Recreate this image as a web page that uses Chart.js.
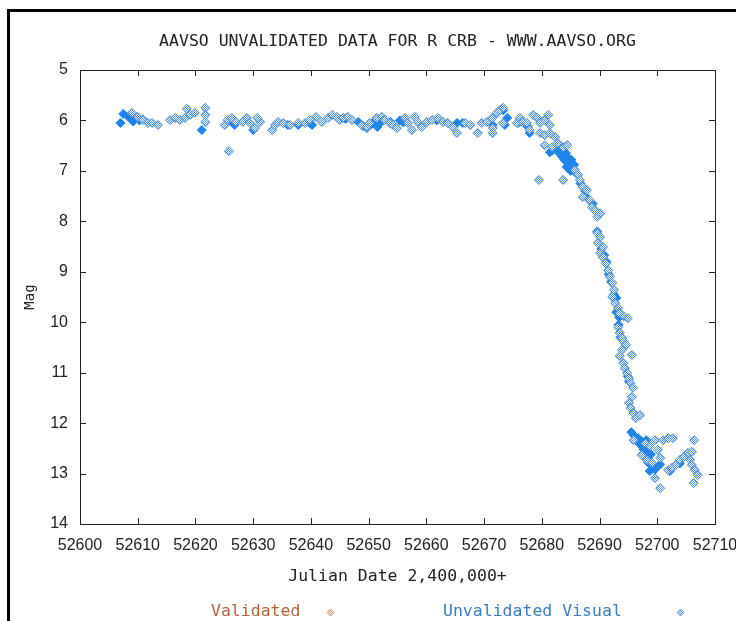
<!DOCTYPE html>
<html>
  <head>
    <script src="https://cdn.jsdelivr.net/npm/chart.js"></script>
    <style>
      body { margin: 0; background: #fff; }
      #lc { position: absolute; left: 0; top: 0; }
    </style>
  </head>

  <body>
    <canvas id="lc" width="736" height="621"></canvas>
  </body>

  <script>
    const chartTitle = "AAVSO UNVALIDATED DATA FOR R CRB - WWW.AAVSO.ORG";
    const xTitle = "Julian Date 2,400,000+";
    const yTitle = "Mag";
    const legendNames = ["Validated", "Unvalidated Visual"];

    // [julian date, magnitude] - hollow (dithered) visual estimates
    const visualObs = [
      [52609.0, 5.85], [52610.0, 5.93], [52610.9, 5.99], [52611.8, 6.05], [52612.5, 6.05],
      [52613.5, 6.09], [52615.6, 5.99], [52616.5, 5.95], [52617.3, 5.99], [52618.2, 5.95],
      [52619.1, 5.89], [52619.9, 5.85], [52618.5, 5.77], [52621.7, 5.75], [52621.7, 5.89],
      [52621.7, 6.03], [52625.1, 6.09], [52625.6, 5.99], [52626.3, 5.95], [52627.0, 6.03],
      [52625.8, 6.61], [52628.2, 6.03], [52628.9, 5.95], [52629.4, 6.05], [52630.3, 6.15],
      [52631.2, 6.03], [52630.7, 5.95], [52633.3, 6.19], [52633.8, 6.09], [52634.3, 6.03],
      [52635.2, 6.05], [52636.4, 6.09], [52637.8, 6.05], [52639.0, 6.05], [52639.8, 5.99],
      [52640.9, 5.93], [52641.9, 6.03], [52643.0, 5.95], [52643.7, 5.89], [52644.5, 5.93],
      [52645.0, 5.99], [52645.6, 5.95], [52646.4, 5.93], [52647.1, 5.99], [52648.8, 6.09],
      [52649.7, 6.13], [52650.2, 6.05], [52651.4, 5.95], [52652.3, 5.93], [52652.8, 5.99],
      [52653.7, 6.05], [52654.2, 6.09], [52654.9, 6.15], [52656.3, 5.95], [52656.8, 6.05],
      [52657.5, 6.19], [52658.0, 5.93], [52658.5, 6.03], [52659.2, 6.13], [52660.1, 6.03],
      [52661.0, 5.99], [52662.0, 5.95], [52662.9, 6.03], [52663.7, 6.05], [52664.6, 6.13],
      [52665.3, 6.25], [52666.7, 6.05], [52667.6, 6.09], [52668.9, 6.25], [52669.6, 6.05],
      [52670.5, 6.03], [52671.4, 5.95], [52672.2, 5.85], [52672.8, 5.79], [52673.3, 5.75],
      [52671.5, 6.15], [52671.5, 6.25], [52673.3, 6.05], [52675.7, 6.05], [52676.2, 5.95],
      [52676.7, 6.03], [52677.4, 6.05], [52677.9, 6.19], [52678.5, 5.89], [52679.2, 5.95],
      [52679.7, 6.05], [52680.5, 5.99], [52681.4, 6.09], [52681.1, 5.89], [52679.7, 6.25],
      [52680.5, 6.29], [52681.4, 6.25], [52682.3, 6.33], [52680.5, 6.49], [52681.8, 6.53],
      [52682.8, 6.45], [52683.7, 6.53], [52684.4, 6.49], [52679.5, 7.18], [52683.7, 7.18],
      [52685.7, 6.98], [52686.3, 7.08], [52686.6, 7.18], [52687.1, 7.32], [52687.8, 7.38],
      [52687.1, 7.52], [52688.3, 7.58], [52688.7, 7.72], [52689.2, 7.78], [52689.6, 7.91],
      [52690.1, 7.84], [52689.6, 8.23], [52690.1, 8.31], [52689.7, 8.43], [52690.6, 8.51],
      [52690.1, 8.63], [52690.6, 8.71], [52691.1, 8.83], [52691.5, 8.97], [52691.8, 9.10],
      [52692.2, 9.22], [52692.5, 9.36], [52692.2, 9.50], [52692.7, 9.62], [52693.2, 9.72],
      [52693.5, 9.82], [52694.2, 9.88], [52694.9, 9.92], [52693.2, 10.10], [52693.5, 10.21],
      [52693.9, 10.31], [52694.2, 10.39], [52694.6, 10.45], [52693.9, 10.55], [52693.5, 10.67],
      [52695.6, 10.65], [52694.1, 10.81], [52694.4, 10.91], [52694.8, 11.01], [52695.1, 11.11],
      [52695.4, 11.21], [52695.8, 11.30], [52695.6, 11.48], [52695.1, 11.60], [52695.4, 11.70],
      [52695.9, 11.80], [52696.3, 11.90], [52697.0, 11.84], [52695.9, 12.34], [52697.9, 12.40],
      [52698.7, 12.46], [52699.6, 12.34], [52700.1, 12.53], [52697.3, 12.63], [52698.2, 12.73],
      [52699.1, 12.79], [52700.5, 12.69], [52701.0, 12.34], [52699.6, 13.09], [52700.5, 13.29],
      [52701.9, 12.30], [52702.7, 12.30], [52701.9, 12.93], [52702.5, 12.89], [52703.2, 12.83],
      [52703.9, 12.73], [52704.6, 12.67], [52705.3, 12.59], [52706.4, 12.34], [52706.0, 12.57],
      [52705.7, 12.73], [52706.0, 12.83], [52706.5, 12.93], [52707.0, 13.03], [52706.3, 13.19]
    ];

    // [julian date, magnitude] - solid visual estimates
    const solidObs = [
      [52607.0, 6.05], [52607.5, 5.87], [52608.4, 5.93], [52609.2, 6.02], [52610.3, 6.00],
      [52610.9, 5.98], [52621.1, 6.19], [52626.3, 6.03], [52626.8, 6.09], [52630.0, 6.19],
      [52636.0, 6.09], [52637.8, 6.09], [52639.8, 6.05], [52640.2, 6.09], [52648.2, 6.03],
      [52649.0, 6.11], [52649.7, 6.15], [52650.5, 6.07], [52651.2, 6.00], [52651.5, 6.13],
      [52652.0, 6.05], [52655.4, 6.00], [52656.0, 6.04], [52661.8, 6.00], [52665.3, 6.05],
      [52666.3, 6.05], [52671.5, 6.09], [52674.0, 5.95], [52675.9, 6.05], [52676.6, 6.03],
      [52673.3, 5.80], [52673.6, 6.09], [52677.6, 6.13], [52677.9, 6.25], [52681.4, 6.63],
      [52681.9, 6.59], [52682.8, 6.60], [52683.2, 6.67], [52683.5, 6.72], [52683.9, 6.78],
      [52684.2, 6.65], [52684.5, 6.82], [52684.9, 6.90], [52685.2, 6.85], [52685.4, 6.95],
      [52684.0, 6.70], [52683.0, 6.55], [52685.0, 7.00], [52686.7, 7.25], [52687.5, 7.40],
      [52688.0, 7.55], [52688.8, 7.65], [52689.6, 8.20], [52690.3, 8.55], [52690.8, 8.67],
      [52691.2, 8.80], [52692.5, 9.45], [52692.9, 9.52], [52692.9, 9.80], [52693.4, 9.90],
      [52693.7, 9.85], [52694.9, 11.07], [52695.1, 11.17], [52695.5, 12.18], [52696.0, 12.25],
      [52696.7, 12.30], [52697.3, 12.36], [52698.1, 12.34], [52697.0, 12.42], [52697.8, 12.46],
      [52698.2, 12.56], [52698.4, 12.78], [52698.7, 12.95], [52699.6, 12.92], [52700.5, 12.82],
      [52702.2, 12.95], [52703.9, 12.80], [52705.1, 12.65], [52682.5, 6.58], [52683.6, 6.62],
      [52684.6, 6.75], [52685.1, 6.78], [52685.6, 6.88], [52684.3, 6.92], [52686.0, 7.05],
      [52691.6, 9.05], [52692.0, 9.20], [52693.3, 10.05], [52693.6, 10.30], [52696.3, 12.32],
      [52697.6, 12.52], [52698.9, 12.62], [52699.2, 12.85], [52653.8, 6.03], [52646.0, 5.97]
    ];

    const xTicks = [52600, 52610, 52620, 52630, 52640, 52650, 52660, 52670, 52680, 52690, 52700, 52710];
    const yTicks = [5, 6, 7, 8, 9, 10, 11, 12, 13, 14];

    function dither(c1, c2) {
      const p = document.createElement("canvas");
      p.width = 2; p.height = 2;
      const g = p.getContext("2d");
      g.fillStyle = c1; g.fillRect(0, 0, 2, 2);
      g.fillStyle = c2; g.fillRect(0, 0, 1, 1); g.fillRect(1, 1, 1, 1);
      return g.createPattern(p, "repeat");
    }

    function diamond(ctx, x, y, r, fill, stroke) {
      ctx.beginPath();
      ctx.moveTo(x, y - r); ctx.lineTo(x + r, y); ctx.lineTo(x, y + r); ctx.lineTo(x - r, y);
      ctx.closePath();
      ctx.fillStyle = fill; ctx.fill();
      ctx.strokeStyle = stroke; ctx.lineWidth = 1; ctx.stroke();
    }

    const tickFont = { family: "Liberation Sans", size: 16 };
    const monoFont = '16.5px "DejaVu Sans Mono"';

    const framePlugin = {
      id: "frame",
      beforeDraw(chart) {
        const ctx = chart.ctx;
        ctx.save();
        ctx.fillStyle = "#fff";
        ctx.fillRect(0, 0, chart.width, chart.height);
        ctx.fillStyle = "#000";
        ctx.fillRect(7, 9, chart.width, 3);
        ctx.fillRect(7, 9, 3, chart.height);
        ctx.restore();
      },
      beforeDatasetsDraw(chart) {
        const ctx = chart.ctx;
        const a = chart.chartArea;
        const xs = chart.scales.x, ys = chart.scales.y;
        ctx.save();
        ctx.strokeStyle = "#222";
        ctx.lineWidth = 1;
        ctx.strokeRect(a.left + 0.5, a.top + 0.5, a.right - a.left, a.bottom - a.top);
        ctx.beginPath();
        xTicks.forEach(v => {
          const px = Math.round(xs.getPixelForValue(v)) + 0.5;
          ctx.moveTo(px, a.bottom); ctx.lineTo(px, a.bottom - 6);
          ctx.moveTo(px, a.top); ctx.lineTo(px, a.top + 6);
        });
        yTicks.forEach(v => {
          const py = Math.round(ys.getPixelForValue(v)) + 0.5;
          ctx.moveTo(a.left, py); ctx.lineTo(a.left + 6, py);
          ctx.moveTo(a.right, py); ctx.lineTo(a.right - 6, py);
        });
        ctx.stroke();
        ctx.restore();
      },
      afterDraw(chart) {
        const ctx = chart.ctx;
        const a = chart.chartArea;
        ctx.save();
        ctx.font = monoFont;
        ctx.textBaseline = "middle";
        ctx.textAlign = "center";
        ctx.fillStyle = "#222";
        ctx.fillText(chartTitle, (a.left + a.right) / 2, 42);
        ctx.textAlign = "left";
        ctx.fillStyle = "#b4613a";
        ctx.fillText(legendNames[0], 211, 612);
        diamond(ctx, 330.5, 612.5, 3.5, dither("#fff", "#d9a585"), "#c99a7e");
        ctx.fillStyle = "#3a7dc2";
        ctx.fillText(legendNames[1], 443, 612);
        diamond(ctx, 680.5, 612.5, 3.5, dither("#fff", "#5d9be3"), "#6a9bd6");
        ctx.restore();
      },
    };

    const ctx = document.getElementById("lc").getContext("2d");
    const chart = new Chart(ctx, {
      type: "scatter",
      data: {
        datasets: [
          {
            label: legendNames[1],
            data: visualObs.map(p => ({ x: p[0], y: p[1] })),
            pointStyle: "rectRot",
            pointRadius: 4.5,
            backgroundColor: dither("#ffffff", "#4a93ea"),
            borderColor: "#4d8ad2",
            borderWidth: 1,
          },
          {
            label: legendNames[1] + " ",
            data: solidObs.map(p => ({ x: p[0], y: p[1] })),
            pointStyle: "rectRot",
            pointRadius: 4.5,
            backgroundColor: "#1f84ee",
            borderColor: "#1f84ee",
            borderWidth: 1,
          },
          {
            label: legendNames[0],
            data: [],
            pointStyle: "rectRot",
            backgroundColor: "#e2b9a0",
          },
        ],
      },
      options: {
        responsive: false,
        animation: false,
        devicePixelRatio: 1,
        layout: { padding: { left: 10, top: 70, right: 21, bottom: 30 } },
        plugins: {
          legend: { display: false },
          tooltip: { enabled: false },
        },
        scales: {
          x: {
            type: "linear",
            min: 52600,
            max: 52710,
            afterBuildTicks: s => { s.ticks = xTicks.map(v => ({ value: v })); },
            afterFit: s => { s.height = 67; s.paddingLeft = 0; s.paddingRight = 0; },
            ticks: {
              font: tickFont,
              color: "#222",
              padding: 12,
              maxRotation: 0,
              autoSkip: false,
              callback: v => String(v),
            },
            grid: { display: false, drawTicks: false },
            border: { display: false },
            title: {
              display: true,
              text: xTitle,
              color: "#222",
              font: { family: "DejaVu Sans Mono", size: 16.5 },
              padding: { top: 4, bottom: 4 },
            },
          },
          y: {
            type: "linear",
            reverse: true,
            min: 5,
            max: 14,
            afterBuildTicks: s => { s.ticks = yTicks.map(v => ({ value: v })); },
            afterFit: s => { s.width = 70; s.paddingTop = 0; s.paddingBottom = 0; },
            ticks: {
              font: tickFont,
              color: "#222",
              padding: 12,
              callback: v => String(v),
            },
            grid: { display: false, drawTicks: false },
            border: { display: false },
            title: {
              display: true,
              text: yTitle,
              color: "#222",
              font: { family: "DejaVu Sans Mono", size: 14 },
              padding: { top: 12, bottom: 0 },
            },
          },
        },
      },
      plugins: [framePlugin],
    });
  </script>
</html>
